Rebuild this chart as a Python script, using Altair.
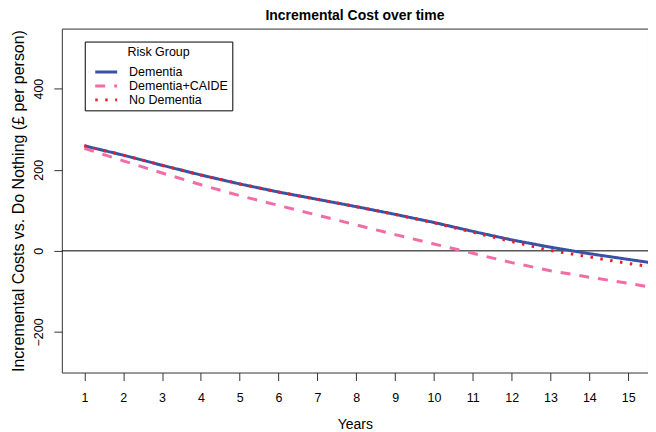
import altair as alt
import pandas as pd

years = [1, 2, 3, 4, 5, 6, 7, 8, 9, 10, 11, 12, 13, 14, 15, 16]
groups = ["Dementia", "Dementia+CAIDE", "No Dementia"]
dementia = [259, 236, 211, 187, 165, 145, 127, 109, 90, 70, 48, 27, 9, -7, -21, -35]
dementia_caide = [253, 222, 192, 163, 136, 112, 88, 64, 40, 17, -6, -29, -49, -65, -80, -97]
no_dementia = [259, 236, 211, 187, 165, 145, 127, 109, 90, 69, 46, 23, 1, -15, -31, -45]
colors = ["#3A52A3", "#F26CA7", "#EE1C25"]
dashes = [[1, 0], [10, 9], [2.5, 7.5]]
x_ticks = list(range(1, 16))
y_ticks = [-200, 0, 200, 400]

rows = []
for g, vals in zip(groups, [dementia, dementia_caide, no_dementia]):
    for yr, v in zip(years, vals):
        rows.append({"year": yr, "cost": v, "group": g})
df = pd.DataFrame(rows)
zero_df = pd.DataFrame({"cost": [0]})

FONT = "Liberation Sans"

legend = alt.Legend(
    title="Risk Group",
    orient="none",
    legendX=23,
    legendY=13,
    symbolType="M-2,0H2",
    symbolSize=121,
    symbolStrokeWidth=3,
    symbolOffset=10.5,
    strokeColor="black",
    fillColor="white",
    padding=4,
    titleAnchor="middle",
    titleAlign="center",
    titleFontWeight="normal",
    titleFontSize=12.5,
    titleFont=FONT,
    titlePadding=7,
    labelFont=FONT,
    labelFontSize=12.5,
    labelOffset=16,
    rowPadding=0,
)

xs = alt.Scale(domain=[0.42, 15.51], nice=False, zero=False)
ys = alt.Scale(domain=[-300, 548], nice=False, zero=False)

rule = alt.Chart(zero_df).mark_rule(color="black", strokeWidth=1).encode(
    y=alt.Y("cost:Q", scale=ys)
)

lines = alt.Chart(df).mark_line(strokeWidth=3, clip=True, strokeCap="butt").encode(
    x=alt.X(
        "year:Q",
        scale=xs,
        axis=alt.Axis(values=x_ticks, title="Years", labelPadding=11, titlePadding=14,
                      titleFontSize=14, format="d"),
    ),
    y=alt.Y(
        "cost:Q",
        scale=ys,
        axis=alt.Axis(
            values=y_ticks,
            title="Incremental Costs vs. Do Nothing (£ per person)",
            titleFontSize=16,
            labelAngle=270,
            labelAlign="center",
            labelBaseline="bottom",
            labelPadding=8,
            titlePadding=6,
        ),
    ),
    color=alt.Color("group:N", scale=alt.Scale(domain=groups, range=colors), legend=legend),
    strokeDash=alt.StrokeDash("group:N", scale=alt.Scale(domain=groups, range=dashes), legend=legend),
)

chart = (
    alt.layer(rule, lines)
    .properties(
        width=588,
        height=345,
        title=alt.TitleParams(
            "Incremental Cost over time",
            font=FONT,
            fontSize=14,
            fontWeight="bold",
            anchor="middle",
            offset=6,
            color="black",
        ),
        autosize=alt.AutoSizeParams(type="none"),
        padding={"left": 54, "top": 20, "right": 0, "bottom": 60},
    )
    .configure_view(stroke="#333333", strokeWidth=1)
    .configure_axis(
        domain=False,
        grid=False,
        ticks=True,
        tickSize=8,
        tickColor="#333333",
        tickWidth=1,
        labelFont=FONT,
        labelFontSize=12.5,
        labelColor="black",
        titleFont=FONT,
        titleFontSize=12,
        titleFontWeight="normal",
        titleColor="black",
    )
)

chart.save("out.html", embed_options={"renderer": "svg", "actions": False})
